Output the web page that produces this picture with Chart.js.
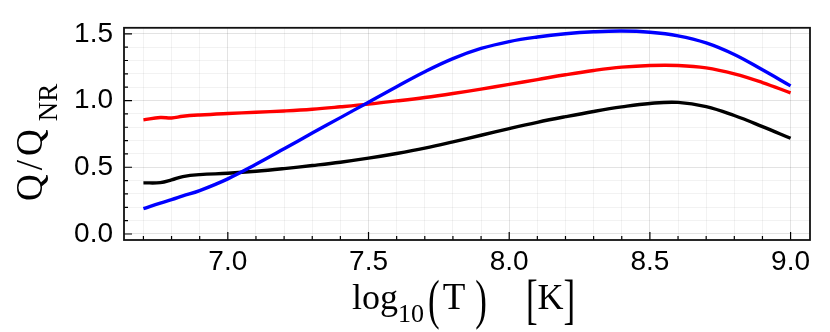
<!DOCTYPE html>
<html>
<head>
<meta charset="utf-8">
<script src="https://cdn.jsdelivr.net/npm/chart.js@4"></script>
<style>
html,body{margin:0;padding:0;background:#fff;}
#wrap{width:830px;height:332px;position:relative;}
</style>
</head>
<body>
<div id="wrap"><canvas id="c" width="830" height="332"></canvas></div>
<script>
// ---- data ----
const logT = [6.7, 6.76, 6.8, 6.84, 6.9, 7.0, 7.1, 7.2, 7.3, 7.4, 7.5, 7.6, 7.7, 7.8, 7.9, 8.0, 8.1, 8.2, 8.3, 8.4, 8.5, 8.6, 8.7, 8.8, 8.9, 9.0];
const blackSeries = [0.383, 0.385, 0.405, 0.430, 0.445, 0.455, 0.470, 0.490, 0.513, 0.538, 0.568, 0.603, 0.643, 0.690, 0.740, 0.790, 0.837, 0.879, 0.918, 0.952, 0.978, 0.986, 0.955, 0.888, 0.805, 0.717];
const redSeries   = [0.855, 0.873, 0.869, 0.882, 0.892, 0.903, 0.912, 0.922, 0.935, 0.953, 0.973, 0.997, 1.023, 1.053, 1.086, 1.121, 1.157, 1.193, 1.225, 1.250, 1.263, 1.263, 1.245, 1.200, 1.135, 1.057];
const blueSeries  = [0.190, 0.232, 0.257, 0.285, 0.325, 0.413, 0.522, 0.638, 0.756, 0.872, 0.988, 1.104, 1.216, 1.314, 1.390, 1.442, 1.476, 1.500, 1.515, 1.521, 1.512, 1.485, 1.432, 1.345, 1.230, 1.110];
const xMajorTicks = [7.0, 7.5, 8.0, 8.5, 9.0];
const xTickLabels = ['7.0', '7.5', '8.0', '8.5', '9.0'];
const xMinorTicks = [6.7, 6.8, 6.9, 7.1, 7.2, 7.3, 7.4, 7.6, 7.7, 7.8, 7.9, 8.1, 8.2, 8.3, 8.4, 8.6, 8.7, 8.8, 8.9];
const yMajorTicks = [0.0, 0.5, 1.0, 1.5];
const yTickLabels = ['0.0', '0.5', '1.0', '1.5'];
const yMinorTicks = [0.1, 0.2, 0.3, 0.4, 0.6, 0.7, 0.8, 0.9, 1.1, 1.2, 1.3, 1.4];
const xLimits = [6.631, 9.069];
const yLimits = [-0.045, 1.545];

function pts(ys){ return logT.map((x,i)=>({x:x, y:ys[i]})); }
function near(a,b){ return Math.abs(a-b) < 1e-6; }
function majorIndex(list, v){ for(let i=0;i<list.length;i++){ if(near(list[i],v)) return i; } return -1; }

const TICK_FONT = {family:'"Liberation Sans", Arial, sans-serif', size:28};
const SERIF = '"Liberation Serif", "Times New Roman", serif';

// draw a sequence of text pieces along a line; each piece: text, size, dy (baseline shift), gap before, sy (vertical stretch)
function drawPieces(ctx, pieces, x0, base){
  let x = x0;
  pieces.forEach(p=>{
    x += (p.gap||0);
    ctx.font = p.size + 'px ' + SERIF;
    const w = ctx.measureText(p.t).width;
    ctx.save();
    ctx.translate(x, base + (p.dy||0));
    if (p.sy) ctx.scale(1, p.sy);
    ctx.fillText(p.t, 0, 0);
    ctx.restore();
    x += w;
  });
}

const decor = {
  id:'decor',
  afterDraw(chart){
    const ctx = chart.ctx, a = chart.chartArea;
    const xs = chart.scales.x, ys = chart.scales.y;
    ctx.save();
    // inward tick marks
    ctx.strokeStyle = '#000'; ctx.lineWidth = 1.2;
    ctx.beginPath();
    xMajorTicks.forEach(v=>{ const p = xs.getPixelForValue(v); ctx.moveTo(p, a.bottom); ctx.lineTo(p, a.bottom-8); });
    xMinorTicks.forEach(v=>{ const p = xs.getPixelForValue(v); ctx.moveTo(p, a.bottom); ctx.lineTo(p, a.bottom-4); });
    yMajorTicks.forEach(v=>{ const p = ys.getPixelForValue(v); ctx.moveTo(a.left, p); ctx.lineTo(a.left+8, p); });
    yMinorTicks.forEach(v=>{ const p = ys.getPixelForValue(v); ctx.moveTo(a.left, p); ctx.lineTo(a.left+4, p); });
    ctx.stroke();
    // frame
    ctx.lineWidth = 1.8; ctx.strokeStyle = '#111';
    ctx.strokeRect(a.left, a.top, a.right-a.left, a.bottom-a.top);

    ctx.fillStyle = '#000';
    ctx.textBaseline = 'alphabetic';
    ctx.textAlign = 'left';
    // x title: log_10(T)   [K]
    const xc = (a.left + a.right)/2;
    drawPieces(ctx, [
      {t:'log', size:36},
      {t:'10', size:26, dy:13},
      {t:'(', size:35, gap:4, sy:1.55, dy:9},
      {t:'T', size:37, gap:3},
      {t:')', size:35, gap:10, sy:1.55, dy:9},
      {t:'[', size:35, gap:39, sy:1.55, dy:9},
      {t:'K', size:36},
      {t:']', size:35, sy:1.55, dy:9}
    ], xc - 115, 309);

    // y title: Q/Q_NR rotated
    const yc = (a.top + a.bottom)/2;
    ctx.translate(42, yc + 67);
    ctx.rotate(-Math.PI/2);
    drawPieces(ctx, [
      {t:'Q', size:37},
      {t:'/', size:37, gap:4},
      {t:'Q', size:37, gap:4},
      {t:'NR', size:27, gap:8, dy:15}
    ], 0, 0);
    ctx.restore();
  }
};

new Chart(document.getElementById('c'), {
  type:'line',
  data:{
    datasets:[
      {label:'black', data:pts(blackSeries), borderColor:'#000000', borderWidth:3.4, pointRadius:0, fill:false, tension:0.4, order:3},
      {label:'red', data:pts(redSeries), borderColor:'#ff0000', borderWidth:3.4, pointRadius:0, fill:false, tension:0.4, order:2},
      {label:'blue', data:pts(blueSeries), borderColor:'#0000ff', borderWidth:3.4, pointRadius:0, fill:false, tension:0.4, order:1}
    ]
  },
  options:{
    responsive:false, animation:false,
    layout:{padding:{left:0, right:20, top:19, bottom:0}},
    plugins:{legend:{display:false}, tooltip:{enabled:false}},
    scales:{
      x:{
        type:'linear', min:xLimits[0], max:xLimits[1],
        afterBuildTicks(s){ s.ticks = xMajorTicks.concat(xMinorTicks).sort((p,q)=>p-q).map(v=>({value:v})); },
        afterFit(s){ s.height = 92; },
        ticks:{ autoSkip:false, maxRotation:0, color:'#000', font:TICK_FONT, padding:5,
          callback(v){ const i = majorIndex(xMajorTicks, v); return i>=0 ? xTickLabels[i] : ''; } },
        grid:{ drawTicks:false, lineWidth:1,
          color(ctx){ return majorIndex(xMajorTicks, ctx.tick.value)>=0 ? 'rgba(0,0,0,0.11)' : 'rgba(0,0,0,0.05)'; } },
        border:{display:false}
      },
      y:{
        type:'linear', min:yLimits[0], max:yLimits[1],
        afterBuildTicks(s){ s.ticks = yMajorTicks.concat(yMinorTicks).sort((p,q)=>p-q).map(v=>({value:v})); },
        afterFit(s){ s.width = 124; },
        ticks:{ autoSkip:false, color:'#000', font:TICK_FONT, padding:11,
          callback(v){ const i = majorIndex(yMajorTicks, v); return i>=0 ? yTickLabels[i] : ''; } },
        grid:{ drawTicks:false, lineWidth:1,
          color(ctx){ return majorIndex(yMajorTicks, ctx.tick.value)>=0 ? 'rgba(0,0,0,0.11)' : 'rgba(0,0,0,0.05)'; } },
        border:{display:false}
      }
    }
  },
  plugins:[decor]
});
</script>
</body>
</html>
